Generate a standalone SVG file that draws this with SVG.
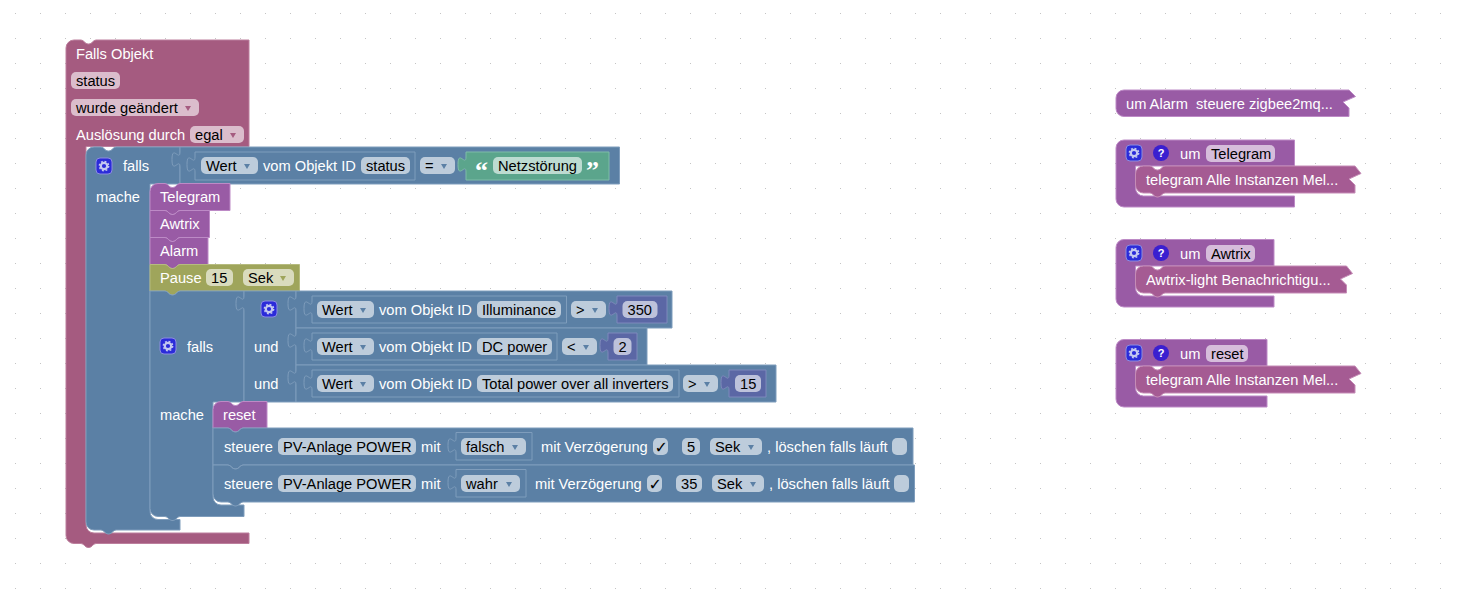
<svg xmlns="http://www.w3.org/2000/svg" width="1457" height="600" viewBox="0 0 1457 600">
<style>
text{font-family:"Liberation Sans",Arial,sans-serif;font-size:14.67px}
.t{fill:#fff}.d{fill:#000}
.b{fill:#5B80A5;stroke:#7F9DBC}.c{fill:#A55B80;stroke:#BC7F9D}.p{fill:#995BA5;stroke:#BD8AC6}.i{fill:#A55B93;stroke:#C58CB6}
.o{fill:#9FA55B;stroke:#B6BB7F}.g{fill:#5BA58C;stroke:#7FBCA8}.m{fill:#5B67A5;stroke:#7F89BC}
.fb{fill:#BDCCDB}.fc{fill:#DBBDCC}.fp{fill:#D6BDDB}.fo{fill:#D9DBBD}.fg{fill:#BDDBD1}.fm{fill:#BDC2DB}
.ab{fill:#5B80A5}.ac{fill:#A55B80}.ao{fill:#9FA55B}
.q{font-family:"Liberation Serif",serif;font-size:26px;font-weight:bold;fill:#fff}
.qm{font-size:11px;font-weight:bold;fill:#fff;text-anchor:middle}
.ck{font-family:"DejaVu Sans",sans-serif;font-size:16px;fill:#000}
</style>
<defs>
<pattern id="dots" x="15" y="13" width="25" height="25" patternUnits="userSpaceOnUse"><rect x="0" y="0" width="1" height="1" fill="#c4c4c4"/></pattern>
<polygon id="ar" points="-3,-2.5 3,-2.5 0,2.5"/>
<g id="gear">
<rect x="0.5" y="0.5" width="16" height="16" rx="4" fill="#2B2BD9" stroke="#8C8CE0"/>
<circle cx="8.500" cy="8.500" r="3.200" fill="#2B2BD9" stroke="#C4C8F0" stroke-width="2.200"/>
<circle cx="8.500" cy="8.500" r="4.700" fill="none" stroke="#C4C8F0" stroke-width="1.400" stroke-dasharray="1.900 1.790"/>
</g>
<g id="help">
<circle cx="8" cy="8" r="8" fill="#3A1FD0"/>
<text x="8" y="12" class="qm">?</text>
</g>
</defs>
<rect id="grid" width="1457" height="600" fill="url(#dots)"/>
<g id="connectors"/>

<g id="trigger">
<path class="c" d="M66,48a8,8 0 0 1 8,-8H81c3,0 4,4 7,4h1c3,0 4,-4 7,-4H249V146.500H86V525a8,8 0 0 0 8,8H249V543.500H96c-3,0 -4,4 -7,4h-1c-3,0 -4,-4 -7,-4H74a8,8 0 0 1 -8,-8Z"/>
<text class="t" x="76" y="59">Falls Objekt</text>
<rect class="fc" x="71" y="72" width="49" height="17" rx="5"/><text class="d" x="76" y="86">status</text>
<rect class="fc" x="71" y="99" width="128" height="17" rx="5"/><text class="d" x="76" y="113">wurde geändert</text><use href="#ar" class="ac" x="188" y="108.500"/>
<text class="t" x="76" y="140">Auslösung durch</text>
<rect class="fc" x="190" y="126" width="54" height="17" rx="5"/><text class="d" x="195" y="140">egal</text><use href="#ar" class="ac" x="233" y="135.500"/>
</g>

<g id="falls-outer">
<path class="b" d="M86,155a8,8 0 0 1 8,-8H101c3,0 4,4 7,4h1c3,0 4,-4 7,-4H180V184H150V511.500a8,8 0 0 0 8,8H180V530H116c-3,0 -4,4 -7,4h-1c-3,0 -4,-4 -7,-4H94a8,8 0 0 1 -8,-8Z"/>
<use href="#gear" x="95.500" y="157.500"/>
<text class="t" x="123" y="171">falls</text>
<text class="t" x="96" y="202">mache</text>
</g>
<g id="cond-status">
<path class="b" d="M180,147H619.500V184H180V167c0,-10 -8,8 -8,-7.500s8,2.500 8,-7.500Z"/>
</g>
<g id="value-status">
<path class="b" d="M195,152H415V180H195V172c0,-10 -8,8 -8,-7.500s8,2.500 8,-7.500Z"/>
<rect class="fb" x="201" y="157" width="57" height="17" rx="5"/><text class="d" x="206" y="171">Wert</text><use href="#ar" class="ab" x="247" y="166.500"/>
<text class="t" x="263" y="171">vom Objekt ID</text>
<rect class="fb" x="361" y="157" width="49" height="17" rx="5"/><text class="d" x="366" y="171">status</text>
</g>
<g id="op-eq">
<rect class="fb" x="420" y="157" width="35" height="17" rx="5"/><text class="d" x="425" y="171">=</text><use href="#ar" class="ab" x="444" y="166.500"/>
</g>
<g id="text-netz">
<path class="g" d="M466,152H609V180H466V172c0,-10 -8,8 -8,-7.500s8,2.500 8,-7.500Z"/>
<text class="q" x="475" y="179">“</text>
<rect class="fg" x="493" y="157" width="89" height="17" rx="5"/><text class="d" x="498" y="171">Netzstörung</text>
<text class="q" x="586" y="179">”</text>
</g>

<g id="call-telegram">
<path class="p" d="M150,191.500a8,8 0 0 1 8,-8H165c3,0 4,4 7,4h1c3,0 4,-4 7,-4H230V210.500H180c-3,0 -4,4 -7,4h-1c-3,0 -4,-4 -7,-4H150Z"/>
<text class="t" x="160" y="202">Telegram</text>
</g>
<g id="call-awtrix">
<path class="p" d="M150,210.500H165c3,0 4,4 7,4h1c3,0 4,-4 7,-4H209.500V237.500H180c-3,0 -4,4 -7,4h-1c-3,0 -4,-4 -7,-4H150Z"/>
<text class="t" x="160" y="229">Awtrix</text>
</g>
<g id="call-alarm">
<path class="p" d="M150,237.500H165c3,0 4,4 7,4h1c3,0 4,-4 7,-4H208V264.500H180c-3,0 -4,4 -7,4h-1c-3,0 -4,-4 -7,-4H150Z"/>
<text class="t" x="160" y="256">Alarm</text>
</g>
<g id="pause">
<path class="o" d="M150,264.500H165c3,0 4,4 7,4h1c3,0 4,-4 7,-4H299.500V291H180c-3,0 -4,4 -7,4h-1c-3,0 -4,-4 -7,-4H150Z"/>
<text class="t" x="160" y="283">Pause</text>
<rect class="fo" x="206" y="269" width="27" height="17" rx="5"/><text class="d" x="211" y="283">15</text>
<rect class="fo" x="243" y="269" width="51" height="17" rx="5"/><text class="d" x="248" y="283">Sek</text><use href="#ar" class="ao" x="283" y="278.500"/>
</g>

<g id="falls-inner">
<path class="b" d="M150,291H165c3,0 4,4 7,4h1c3,0 4,-4 7,-4H244V402H213V497a8,8 0 0 0 8,8H244V516.500H180c-3,0 -4,4 -7,4h-1c-3,0 -4,-4 -7,-4H158a8,8 0 0 1 -8,-8Z"/>
<use href="#gear" x="159.500" y="337.500"/>
<text class="t" x="187" y="352">falls</text>
<text class="t" x="160" y="420">mache</text>
</g>
<g id="and-block">
<path class="b" d="M244,291H296V402H244V311c0,-10 -8,8 -8,-7.500s8,2.500 8,-7.500Z"/>
<use href="#gear" x="260.500" y="300.500"/>
<text class="t" x="254" y="352">und</text>
<text class="t" x="254" y="389">und</text>
</g>

<g id="cmp-illuminance">
<path class="b" d="M296,291H672V328H296V311c0,-10 -8,8 -8,-7.500s8,2.500 8,-7.500Z"/>
<path class="b" d="M312,296H566.500V323H312V316c0,-10 -8,8 -8,-7.500s8,2.500 8,-7.500Z"/>
<rect class="fb" x="317" y="301" width="57" height="17" rx="5"/><text class="d" x="322" y="315">Wert</text><use href="#ar" class="ab" x="363" y="310.500"/>
<text class="t" x="379" y="315">vom Objekt ID</text>
<rect class="fb" x="477" y="301" width="84" height="17" rx="5"/><text class="d" x="482" y="315">Illuminance</text>
<rect class="fb" x="571" y="301" width="35" height="17" rx="5"/><text class="d" x="576" y="315">&gt;</text><use href="#ar" class="ab" x="595" y="310.500"/>
<path class="m" d="M617,296H667V323H617V316c0,-10 -8,8 -8,-7.500s8,2.500 8,-7.500Z"/>
<rect class="fm" x="622.500" y="301" width="35" height="17" rx="5"/><text class="d" x="627.500" y="315">350</text>
</g>
<g id="cmp-dc">
<path class="b" d="M296,328H647V365H296V348c0,-10 -8,8 -8,-7.500s8,2.500 8,-7.500Z"/>
<path class="b" d="M312,333H557V360H312V353c0,-10 -8,8 -8,-7.500s8,2.500 8,-7.500Z"/>
<rect class="fb" x="317" y="338" width="57" height="17" rx="5"/><text class="d" x="322" y="352">Wert</text><use href="#ar" class="ab" x="363" y="347.500"/>
<text class="t" x="379" y="352">vom Objekt ID</text>
<rect class="fb" x="477" y="338" width="75" height="17" rx="5"/><text class="d" x="482" y="352">DC power</text>
<rect class="fb" x="562" y="338" width="35" height="17" rx="5"/><text class="d" x="567" y="352">&lt;</text><use href="#ar" class="ab" x="586" y="347.500"/>
<path class="m" d="M608,333H637V360H608V353c0,-10 -8,8 -8,-7.500s8,2.500 8,-7.500Z"/>
<rect class="fm" x="613.500" y="338" width="18" height="17" rx="5"/><text class="d" x="618.500" y="352">2</text>
</g>
<g id="cmp-total">
<path class="b" d="M296,365H776V402H296V385c0,-10 -8,8 -8,-7.500s8,2.500 8,-7.500Z"/>
<path class="b" d="M312,370H679V397H312V390c0,-10 -8,8 -8,-7.500s8,2.500 8,-7.500Z"/>
<rect class="fb" x="317" y="375" width="57" height="17" rx="5"/><text class="d" x="322" y="389">Wert</text><use href="#ar" class="ab" x="363" y="384.500"/>
<text class="t" x="379" y="389">vom Objekt ID</text>
<rect class="fb" x="477" y="375" width="196" height="17" rx="5"/><text class="d" x="482" y="389">Total power over all inverters</text>
<rect class="fb" x="683" y="375" width="35" height="17" rx="5"/><text class="d" x="688" y="389">&gt;</text><use href="#ar" class="ab" x="707" y="384.500"/>
<path class="m" d="M729,370H766V397H729V390c0,-10 -8,8 -8,-7.500s8,2.500 8,-7.500Z"/>
<rect class="fm" x="735" y="375" width="26" height="17" rx="5"/><text class="d" x="740" y="389">15</text>
</g>

<g id="call-reset">
<path class="p" d="M213,409.500a8,8 0 0 1 8,-8H228c3,0 4,4 7,4h1c3,0 4,-4 7,-4H267V428H243c-3,0 -4,4 -7,4h-1c-3,0 -4,-4 -7,-4H213Z"/>
<text class="t" x="223" y="420">reset</text>
</g>
<g id="control-1">
<path class="b" d="M213,428H228c3,0 4,4 7,4h1c3,0 4,-4 7,-4H913V465H243c-3,0 -4,4 -7,4h-1c-3,0 -4,-4 -7,-4H213Z"/>
<text class="t" x="224" y="452">steuere</text>
<rect class="fb" x="278" y="438" width="138" height="17" rx="5"/><text class="d" x="283" y="452">PV-Anlage POWER</text>
<text class="t" x="421" y="452">mit</text>
<path class="b" d="M456,432.500H532V460H456V453c0,-10 -8,8 -8,-7.500s8,2.500 8,-7.500Z"/>
<rect class="fb" x="461" y="438" width="65" height="17" rx="5"/><text class="d" x="466" y="452">falsch</text><use href="#ar" class="ab" x="515" y="447.500"/>
<text class="t" x="541" y="452">mit Verzögerung</text>
<rect class="fb" x="653" y="438" width="15" height="17" rx="5"/><text class="ck" x="654.500" y="453">✓</text>
<rect class="fb" x="682" y="438" width="18" height="17" rx="5"/><text class="d" x="687" y="452">5</text>
<rect class="fb" x="710" y="438" width="52" height="17" rx="5"/><text class="d" x="715" y="452">Sek</text><use href="#ar" class="ab" x="751" y="447.500"/>
<text class="t" x="767" y="452">, löschen falls läuft</text>
<rect class="fb" x="892" y="438" width="15" height="17" rx="5"/>
</g>
<g id="control-2">
<path class="b" d="M213,465H228c3,0 4,4 7,4h1c3,0 4,-4 7,-4H914.500V502H243c-3,0 -4,4 -7,4h-1c-3,0 -4,-4 -7,-4H221a8,8 0 0 1 -8,-8Z"/>
<text class="t" x="224" y="489">steuere</text>
<rect class="fb" x="278" y="475" width="138" height="17" rx="5"/><text class="d" x="283" y="489">PV-Anlage POWER</text>
<text class="t" x="421" y="489">mit</text>
<path class="b" d="M456,469.500H526V497H456V490c0,-10 -8,8 -8,-7.500s8,2.500 8,-7.500Z"/>
<rect class="fb" x="461" y="475" width="59" height="17" rx="5"/><text class="d" x="466" y="489">wahr</text><use href="#ar" class="ab" x="509" y="484.500"/>
<text class="t" x="535" y="489">mit Verzögerung</text>
<rect class="fb" x="647" y="475" width="15" height="17" rx="5"/><text class="ck" x="648.500" y="490">✓</text>
<rect class="fb" x="676" y="475" width="26" height="17" rx="5"/><text class="d" x="681" y="489">35</text>
<rect class="fb" x="712" y="475" width="52" height="17" rx="5"/><text class="d" x="717" y="489">Sek</text><use href="#ar" class="ab" x="753" y="484.500"/>
<text class="t" x="769" y="489">, löschen falls läuft</text>
<rect class="fb" x="894" y="475" width="15" height="17" rx="5"/>
</g>

<g id="proc-alarm">
<path class="p" d="M1116,98a8,8 0 0 1 8,-8H1349L1355.500,96.500L1343,102L1349,108V116.500H1124a8,8 0 0 1 -8,-8Z"/>
<text class="t" x="1126" y="109" xml:space="preserve">um Alarm  steuere zigbee2mq...</text>
</g>

<g id="proc-telegram">
<path class="p" d="M1116,148a8,8 0 0 1 8,-8H1294.500V166H1135.500V188a8,8 0 0 0 8,8H1294.500V207H1124a8,8 0 0 1 -8,-8Z"/>
<use href="#gear" x="1125.500" y="144.500"/><use href="#help" x="1153" y="145"/>
<text class="t" x="1180" y="159">um</text>
<rect class="fp" x="1206" y="145" width="69" height="17" rx="5"/><text class="d" x="1211" y="159">Telegram</text>
<path class="i" d="M1135.500,174a8,8 0 0 1 8,-8H1150c3,0 4,4 7,4h1c3,0 4,-4 7,-4H1355L1361,173.500L1349,179L1355,185V193H1165c-3,0 -4,4 -7,4h-1c-3,0 -4,-4 -7,-4H1143.500a8,8 0 0 1 -8,-8Z"/>
<text class="t" x="1146" y="185">telegram Alle Instanzen Mel...</text>
</g>
<g id="proc-awtrix">
<path class="p" d="M1116,247.500a8,8 0 0 1 8,-8H1274V266H1135.500V288a8,8 0 0 0 8,8H1274V307H1124a8,8 0 0 1 -8,-8Z"/>
<use href="#gear" x="1125.500" y="244.500"/><use href="#help" x="1153" y="245"/>
<text class="t" x="1180" y="259">um</text>
<rect class="fp" x="1206" y="245" width="49" height="17" rx="5"/><text class="d" x="1211" y="259">Awtrix</text>
<path class="i" d="M1135.500,274a8,8 0 0 1 8,-8H1150c3,0 4,4 7,4h1c3,0 4,-4 7,-4H1346.500L1352.500,273.500L1340.500,279L1346.500,285V293H1165c-3,0 -4,4 -7,4h-1c-3,0 -4,-4 -7,-4H1143.500a8,8 0 0 1 -8,-8Z"/>
<text class="t" x="1146" y="285">Awtrix-light Benachrichtigu...</text>
</g>
<g id="proc-reset">
<path class="p" d="M1116,347.500a8,8 0 0 1 8,-8H1267V366H1135.500V388a8,8 0 0 0 8,8H1267V407H1124a8,8 0 0 1 -8,-8Z"/>
<use href="#gear" x="1125.500" y="344.500"/><use href="#help" x="1153" y="345"/>
<text class="t" x="1180" y="359">um</text>
<rect class="fp" x="1206" y="345" width="42" height="17" rx="5"/><text class="d" x="1211" y="359">reset</text>
<path class="i" d="M1135.500,374a8,8 0 0 1 8,-8H1150c3,0 4,4 7,4h1c3,0 4,-4 7,-4H1355L1361,373.500L1349,379L1355,385V393H1165c-3,0 -4,4 -7,4h-1c-3,0 -4,-4 -7,-4H1143.500a8,8 0 0 1 -8,-8Z"/>
<text class="t" x="1146" y="385">telegram Alle Instanzen Mel...</text>
</g>
</svg>
